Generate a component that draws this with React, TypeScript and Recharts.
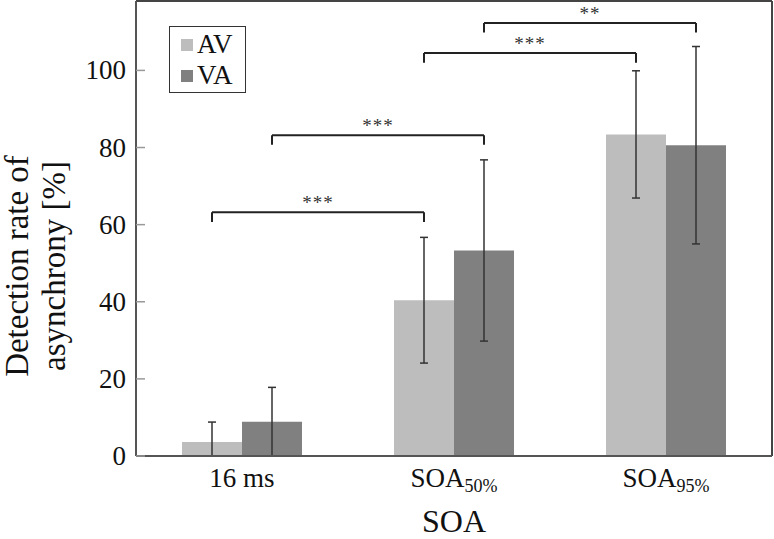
import { BarChart, Bar, XAxis, YAxis, ErrorBar, ReferenceLine, Legend } from "recharts";

const categories = ["16 ms", "SOA", "SOA"];
const categorySubs = ["", "50%", "95%"];
const avMeans = [3.6, 40.4, 83.4];
const avErrors = [5.2, 16.3, 16.5];
const vaMeans = [8.9, 53.3, 80.6];
const vaErrors = [8.9, 23.5, 25.6];
const yTicks = [0, 20, 40, 60, 80, 100];

// significance brackets: each joins the same series in category i and i + 1
const bracketStart = [0, 0, 1, 1];
const bracketSeries = ["AV", "VA", "AV", "VA"];
const bracketHeights = [63.2, 83.2, 104.5, 112.3];
const bracketMarks = ["***", "***", "***", "**"];

const FONT = "'Liberation Serif', 'Times New Roman', serif";
const AV_COLOR = "#bdbdbd";
const VA_COLOR = "#808080";
const W = 774;
const H = 539;
const PLOT_LEFT = 136;
const PLOT_RIGHT = 772;
const BAR_SIZE = 60;
const Y_MAX = 118;
const DROP = 2.5;

// lower whisker stops at the axis (the figure clips it at 0)
const chartData = categories.map((c, i) => ({
  idx: i,
  AV: avMeans[i],
  avErr: [Math.min(avErrors[i], avMeans[i]), avErrors[i]],
  VA: vaMeans[i],
  vaErr: [Math.min(vaErrors[i], vaMeans[i]), vaErrors[i]],
}));

// half a bar expressed in x-axis units
const bandPx = (PLOT_RIGHT - PLOT_LEFT) / categories.length;
const halfBar = BAR_SIZE / 2 / bandPx;

function YTick({ x, y, payload }: any) {
  return (
    <g>
      <line x1={PLOT_LEFT} x2={PLOT_LEFT + 9} y1={y} y2={y} stroke="#999" strokeWidth={1.5} />
      <text x={x} y={y} dy={9} textAnchor="end" fontSize={27} fill="#111" fontFamily={FONT}>
        {payload.value}
      </text>
    </g>
  );
}

function XTick({ x, y, payload }: any) {
  const i = payload.value;
  return (
    <text x={x} y={y + 31} textAnchor="middle" fontSize={27} fill="#111" fontFamily={FONT}>
      <tspan>{categories[i]}</tspan>
      {categorySubs[i] && (
        <tspan fontSize={18} dy={5}>
          {categorySubs[i]}
        </tspan>
      )}
    </text>
  );
}

function YLabel() {
  return (
    <text transform="translate(28, 266) rotate(-90)" textAnchor="middle" fontSize={33} fill="#111" fontFamily={FONT}>
      <tspan x={0} dy={0}>Detection rate of</tspan>
      <tspan x={0} dy={37}>asynchrony [%]</tspan>
    </text>
  );
}

function LegendBox() {
  const items = [
    { name: "AV", color: AV_COLOR },
    { name: "VA", color: VA_COLOR },
  ];
  return (
    <div
      style={{
        width: 77,
        height: 67,
        boxSizing: "border-box",
        border: "1px solid #333",
        background: "#fff",
        paddingTop: 2,
        fontFamily: FONT,
        fontSize: 27,
        color: "#111",
      }}
    >
      {items.map((it) => (
        <div key={it.name} style={{ display: "flex", alignItems: "center", height: 31 }}>
          <span style={{ width: 12, height: 12, background: it.color, marginLeft: 11, marginRight: 4 }} />
          <span style={{ lineHeight: "31px" }}>{it.name}</span>
        </div>
      ))}
    </div>
  );
}

export default function App() {
  const brackets = bracketStart.map((s, i) => {
    const shift = bracketSeries[i] === "AV" ? -halfBar : halfBar;
    return { x1: s + shift, x2: s + 1 + shift, y: bracketHeights[i], mark: bracketMarks[i] };
  });

  return (
    <div style={{ position: "absolute", left: 0, top: 0, background: "#fff" }}>
      <BarChart
        width={W}
        height={H}
        data={chartData}
        margin={{ top: 1, right: W - PLOT_RIGHT, bottom: 0, left: 0 }}
        barGap={0}
        barSize={BAR_SIZE}
      >
        <XAxis
          type="number"
          dataKey="idx"
          domain={[-0.5, 2.5]}
          ticks={[0, 1, 2]}
          height={H - 456}
          tickLine={false}
          tickSize={0}
          tickMargin={0}
          tick={<XTick />}
          axisLine={{ stroke: "#555", strokeWidth: 2 }}
          label={{ value: "SOA", position: "insideBottom", offset: 7, fontSize: 32, fill: "#111", fontFamily: FONT }}
        />
        <YAxis
          type="number"
          domain={[0, Y_MAX]}
          allowDataOverflow
          ticks={yTicks}
          width={PLOT_LEFT}
          tickLine={false}
          tickSize={0}
          tickMargin={10}
          tick={<YTick />}
          axisLine={{ stroke: "#555", strokeWidth: 2 }}
          label={{ value: "", content: <YLabel /> }}
        />
        <ReferenceLine y={Y_MAX} stroke="#444" strokeWidth={2} />
        <ReferenceLine x={2.5} stroke="#444" strokeWidth={2} />
        <Legend
          layout="vertical"
          align="center"
          verticalAlign="middle"
          wrapperStyle={{ left: 169, top: 26, width: 77, height: 67 }}
          content={<LegendBox />}
        />
        <Bar dataKey="AV" fill={AV_COLOR} isAnimationActive={false}>
          <ErrorBar dataKey="avErr" width={4} stroke="#333" strokeWidth={1.5} isAnimationActive={false} />
        </Bar>
        <Bar dataKey="VA" fill={VA_COLOR} isAnimationActive={false}>
          <ErrorBar dataKey="vaErr" width={4} stroke="#333" strokeWidth={1.5} isAnimationActive={false} />
        </Bar>
        {brackets.map((b, i) => (
          <ReferenceLine
            key={"h" + i}
            segment={[
              { x: b.x1, y: b.y },
              { x: b.x2, y: b.y },
            ]}
            stroke="#222"
            strokeWidth={2}
            label={{ value: b.mark, position: "top", offset: 3, fontSize: 19, fill: "#333", fontFamily: FONT, letterSpacing: 1 }}
          />
        ))}
        {brackets.map((b, i) => (
          <ReferenceLine
            key={"l" + i}
            segment={[
              { x: b.x1, y: b.y },
              { x: b.x1, y: b.y - DROP },
            ]}
            stroke="#222"
            strokeWidth={2}
          />
        ))}
        {brackets.map((b, i) => (
          <ReferenceLine
            key={"r" + i}
            segment={[
              { x: b.x2, y: b.y },
              { x: b.x2, y: b.y - DROP },
            ]}
            stroke="#222"
            strokeWidth={2}
          />
        ))}
      </BarChart>
    </div>
  );
}
